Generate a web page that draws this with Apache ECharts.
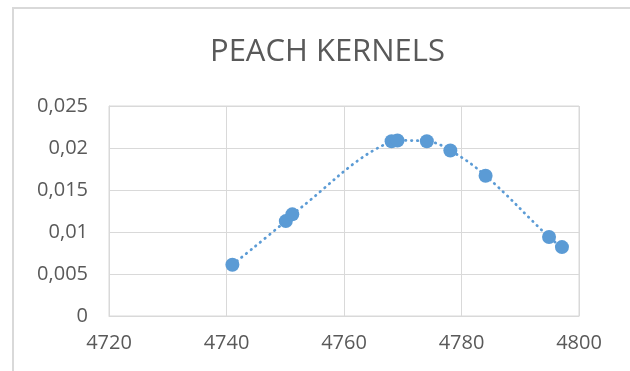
<!DOCTYPE html>
<html>
<head>
<meta charset="utf-8">
<script src="https://cdn.jsdelivr.net/npm/echarts@6/dist/echarts.min.js"></script>
<style>html,body{margin:0;padding:0;background:#fff}#c{width:630px;height:371px}</style>
</head>
<body>
<div id="c"></div>
<script>
var titleText = 'PEACH KERNELS';
var xValues = [4741, 4750.1, 4751.2, 4768.1, 4769.1, 4774.1, 4778.1, 4784.1, 4794.9, 4797.1];
var yValues = [0.0061, 0.0113, 0.0121, 0.0208, 0.0209, 0.0208, 0.0197, 0.0167, 0.0094, 0.0082];
var xTicks = [4720, 4740, 4760, 4780, 4800];
var yTicks = [0, 0.005, 0.01, 0.015, 0.02, 0.025];

var chart = echarts.init(document.getElementById('c'), null, {renderer: 'canvas'});
var font = '"Open Sans", "Noto Sans", sans-serif';
var grey = '#595959';
var gridCol = '#d9d9d9';
var blue = '#5B9BD5';
var pts = xValues.map(function (x, i) { return [x, yValues[i]]; });

chart.setOption({
  animation: false,
  backgroundColor: '#ffffff',
  title: {
    text: titleText,
    left: 205,
    top: 32,
    textStyle: {fontFamily: font, fontSize: 31, fontWeight: 'normal', color: grey}
  },
  graphic: [
    {type: 'line', shape: {x1: 13, y1: 8, x2: 13, y2: 371}, style: {stroke: gridCol, lineWidth: 2}},
    {type: 'line', shape: {x1: 12, y1: 8, x2: 630, y2: 8}, style: {stroke: gridCol, lineWidth: 2}}
  ],
  grid: {left: 109, right: 51, top: 106, bottom: 55, show: true, borderColor: gridCol, borderWidth: 1, containLabel: false},
  xAxis: {
    type: 'value',
    min: xTicks[0],
    max: xTicks[xTicks.length - 1],
    interval: xTicks[1] - xTicks[0],
    axisLine: {show: true, lineStyle: {color: gridCol}},
    axisTick: {show: false},
    splitLine: {show: true, lineStyle: {color: gridCol, width: 1}},
    axisLabel: {fontFamily: font, fontSize: 20, color: grey, margin: 17, formatter: function (v) { return String(v); }}
  },
  yAxis: {
    type: 'value',
    min: yTicks[0],
    max: yTicks[yTicks.length - 1],
    interval: yTicks[1] - yTicks[0],
    axisLine: {show: true, lineStyle: {color: gridCol}},
    axisTick: {show: false},
    splitLine: {show: true, lineStyle: {color: gridCol, width: 1}},
    axisLabel: {
      fontFamily: font, fontSize: 20, color: grey, margin: 21,
      formatter: function (v) { return String(Number(v.toFixed(3))).replace('.', ','); }
    }
  },
  series: [{
    type: 'line',
    data: pts,
    smooth: 0.4,
    symbol: 'circle',
    symbolSize: 14,
    itemStyle: {color: blue},
    lineStyle: {color: blue, width: 2.75, type: [0.5, 5.5], cap: 'round'},
    z: 3
  }]
});
</script>
</body>
</html>
